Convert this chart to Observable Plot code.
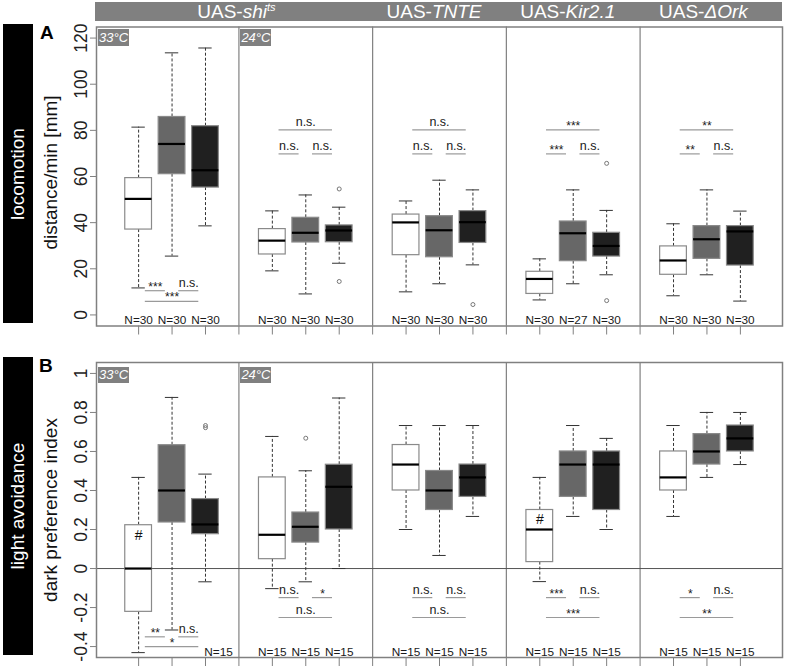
<!DOCTYPE html>
<html><head><meta charset="utf-8">
<script src="https://cdn.jsdelivr.net/npm/d3@7"></script>
<script src="https://cdn.jsdelivr.net/npm/@observablehq/plot@0.6"></script>
<style>
body{margin:0;background:#fff;font-family:"Liberation Sans",Arial,sans-serif;}
#wrap{position:relative;width:785px;height:672px;overflow:hidden;background:#fff}
.panel{position:absolute;left:0}
.side{position:absolute;background:#000;left:3px;width:30px}
.side span{position:absolute;left:50%;top:50%;transform:translate(-50%,-50%) rotate(-90deg);color:#fff;font-size:19px;white-space:nowrap}
.hdr{position:absolute;left:95px;top:2px;width:687px;height:19px;background:#808080}
.hl{position:absolute;top:2px;height:19px;line-height:19px;color:#fff;font-size:19px;white-space:nowrap;transform:translateX(-50%)}
.hl i{font-style:italic}
.hl sup{font-size:11px;line-height:0;vertical-align:7px;font-style:italic}
.temp{position:absolute;background:#808080;color:#fff;font-style:italic;font-size:13px;text-align:center}
.letter{position:absolute;font-weight:bold;font-size:19px;line-height:19px}
</style></head><body><div id="wrap"></div>
<script>
// ---------- data ----------
const positions = [1,2,3, 5,6,7, 9,10,11, 13,14,15, 17,18,19];
const boxShade  = ["white","gray","black","white","gray","black","white","gray","black","white","gray","black","white","gray","black"];
const dividers = [4, 8, 12, 16];
const tickPositions = [1,2,3,4,5,6,7,8,9,10,11,12,13,14,15,16,17,18,19];

// A: locomotion, distance/min [mm]
const locoHi  = [81.4,113.6,115.7, 45.1,52.0,46.7, 49.4,58.4,54.2, 24.3,54.2,45.3, 39.5,54.2,45.0];
const locoQ3  = [59.3, 85.8, 81.8, 37.2,42.1,38.8, 43.5,42.8,45.0, 18.7,40.5,35.6, 29.7,38.5,38.5];
const locoMed = [50.3, 74.1, 62.7, 32.2,35.6,36.6, 40.1,36.7,40.2, 15.6,35.4,29.9, 23.6,32.8,36.2];
const locoQ1  = [37.0, 61.0, 55.2, 26.2,31.4,31.5, 25.9,25.0,31.2,  9.1,23.3,25.3, 17.4,24.3,21.4];
const locoLo  = [11.7, 25.5, 38.6, 19.1, 9.1,22.4, 10.0,13.5,21.7,  6.5,13.5,17.4,  8.3,17.4, 6.0];
const locoN   = ["N=30","N=30","N=30","N=30","N=30","N=30","N=30","N=30","N=30","N=30","N=27","N=30","N=30","N=30","N=30"];
const locoOutPos = [7, 7, 11, 15, 15];
const locoOutVal = [54.6, 14.5, 4.5, 65.7, 6.2];
const locoTicks = [0, 20, 40, 60, 80, 100, 120];
const sigALabel = ["***","n.s.","***", "n.s.","n.s.","n.s.", "n.s.","n.s.","n.s.", "***","n.s.","***", "**","n.s.","**"];
const sigFrom   = [1,2,1, 5,6,5, 9,10,9, 13,14,13, 17,18,17];
const sigTo     = [2,3,3, 6,7,7, 10,11,11, 14,15,15, 18,19,19];
const sigAY     = [10.5,10.5,5.9, 69.8,69.8,80.2, 69.8,69.8,80.2, 69.8,69.8,80.2, 69.8,69.8,80.2];

// B: light avoidance, dark preference index
const prefHi  = [0.467,0.877,0.484, 0.677,0.501,0.874, 0.733,0.733,0.733,  0.467,0.733,0.667, 0.733,0.800,0.800];
const prefQ3  = [0.222,0.632,0.356, 0.467,0.287,0.532, 0.633,0.500,0.533,  0.300,0.600,0.600, 0.600,0.689,0.733];
const prefMed = [0.000,0.400,0.226, 0.173,0.214,0.419, 0.533,0.400,0.467,  0.200,0.533,0.533, 0.467,0.600,0.667];
const prefQ1  = [-0.222,0.236,0.176, 0.048,0.133,0.200, 0.400,0.300,0.367, 0.033,0.367,0.300, 0.400,0.533,0.600];
const prefLo  = [-0.431,-0.315,-0.068, -0.103,-0.068,0.000, 0.200,0.067,0.267, -0.067,0.267,0.200, 0.267,0.467,0.533];
const prefNPos = [5,6,7, 9,10,11, 13,14,15, 17,18,19];
const prefNFirst = [3];
const prefOutPos = [3, 3, 6];
const prefOutVal = [0.722, 0.733, 0.668];
const prefHashPos = [1, 13];
const prefHashVal = [0.171, 0.253];
const prefTicks = [-0.4, -0.2, 0, 0.2, 0.4, 0.6, 0.8, 1];
const prefTickLabels = ["-0.4","-0.2","0","0.2","0.4","0.6","0.8","1"];
const sigBLabel = ["**","n.s.","*", "n.s.","*","n.s.", "n.s.","n.s.","n.s.", "***","n.s.","***", "*","n.s.","**"];
const sigBY     = [-0.35,-0.35,-0.40, -0.149,-0.149,-0.251, -0.149,-0.149,-0.251, -0.149,-0.149,-0.251, -0.149,-0.149,-0.251];

// ---------- styling ----------
const shadeFill = {white: "#ffffff", gray: "#676767", black: "#202020"};
const gray = "#808080";
const font = "Liberation Sans, Arial, sans-serif";

function boxTable(hi, q3, med, q1, lo) {
  return positions.map((p, i) => ({pos: p, hi: hi[i], q3: q3[i], med: med[i], q1: q1[i], lo: lo[i], fill: shadeFill[boxShade[i]]}));
}
function sigTable(labels, ys) {
  return labels.map((l, i) => ({label: l, a: sigFrom[i], b: sigTo[i], y: ys[i]}));
}

function boxMarks(boxes) {
  return [
    Plot.ruleX(boxes, {x: "pos", y1: "q3", y2: "hi", stroke: "#333", strokeDasharray: "3,2", strokeWidth: 1}),
    Plot.ruleX(boxes, {x: "pos", y1: "q1", y2: "lo", stroke: "#333", strokeDasharray: "3,2", strokeWidth: 1}),
    Plot.ruleY(boxes, {y: "hi", x1: d => d.pos - 0.2, x2: d => d.pos + 0.2, stroke: "#333", strokeWidth: 1}),
    Plot.ruleY(boxes, {y: "lo", x1: d => d.pos - 0.2, x2: d => d.pos + 0.2, stroke: "#333", strokeWidth: 1}),
    Plot.rect(boxes, {x1: d => d.pos - 0.4, x2: d => d.pos + 0.4, y1: "q1", y2: "q3", fill: "fill", stroke: "#8a8a8a", strokeWidth: 1.2}),
    Plot.ruleY(boxes, {y: "med", x1: d => d.pos - 0.4, x2: d => d.pos + 0.4, stroke: "#000", strokeWidth: 2.2})
  ];
}
function sigMarks(sig) {
  const ns = sig.filter(d => d.label === "n.s.");
  const stars = sig.filter(d => d.label !== "n.s.");
  return [
    Plot.ruleY(sig, {y: "y", x1: d => d.a + 0.2, x2: d => d.b - 0.2, stroke: "#9a9a9a", strokeWidth: 1.2}),
    Plot.text(ns, {x: d => (d.a + d.b) / 2, y: "y", text: "label", lineAnchor: "bottom", dy: -4, fontSize: 12.5, fill: "#1a1a1a"}),
    Plot.text(stars, {x: d => (d.a + d.b) / 2, y: "y", text: "label", lineAnchor: "bottom", dy: 0, fontSize: 12, fill: "#1a1a1a"})
  ];
}
function frameMarks(ticks, labels) {
  return [
    Plot.ruleX(dividers, {stroke: gray, strokeWidth: 1.2}),
    Plot.axisX({ticks: tickPositions, tickSize: 9, tickFormat: () => "", stroke: gray, anchor: "bottom", label: null}),
    Plot.axisY({ticks: ticks, tickSize: 6, tickFormat: () => "", stroke: gray, anchor: "left", label: null}),
    Plot.text(ticks, {y: d => d, text: (d, i) => labels[i], frameAnchor: "left", textAnchor: "middle", lineAnchor: "middle", dx: -15, rotate: -90, fontSize: 17.5, fill: "#222"})
  ];
}
function titleMark(t, dy) {
  return Plot.text([t], {frameAnchor: "left", textAnchor: "middle", lineAnchor: "middle", dx: -46, dy: dy, rotate: -90, fontSize: 19, fill: "#111"});
}
function nMarks(pos, texts, dx) {
  return Plot.text(pos, {x: d => d, text: (d, i) => texts[i], frameAnchor: "bottom", lineAnchor: "bottom", dy: -2, dx: dx, fontSize: 11.8, fill: "#1a1a1a"});
}

const wrap = document.getElementById("wrap");

// ---------- panel A ----------
const boxesA = boxTable(locoHi, locoQ3, locoMed, locoQ1, locoLo);
const plotA = Plot.plot({
  width: 785, height: 340,
  marginLeft: 96, marginRight: 3, marginTop: 26.5, marginBottom: 14.5,
  x: {domain: [-0.26, 20.26], axis: null},
  y: {domain: [-4.8, 124.8], axis: null},
  color: {type: "identity"},
  style: {fontFamily: font, background: "transparent", overflow: "visible"},
  marks: [
    ...frameMarks(locoTicks, locoTicks.map(String)),
    ...boxMarks(boxesA),
    Plot.dot(locoOutPos, {x: d => d, y: (d, i) => locoOutVal[i], r: 2, stroke: "#777", strokeWidth: 1}),
    ...sigMarks(sigTable(sigALabel, sigAY)),
    nMarks(positions, locoN, 0),
    titleMark("distance/min [mm]", -4),
    Plot.frame({stroke: gray, strokeWidth: 1.5})
  ]
});
const divA = document.createElement("div");
divA.className = "panel"; divA.style.top = "0px";
divA.appendChild(plotA);
wrap.appendChild(divA);

// ---------- panel B ----------
const boxesB = boxTable(prefHi, prefQ3, prefMed, prefQ1, prefLo);
const plotB = Plot.plot({
  width: 785, height: 332,
  marginLeft: 96, marginRight: 3, marginTop: 22, marginBottom: 15,
  x: {domain: [-0.26, 20.26], axis: null},
  y: {domain: [-0.456, 1.056], axis: null},
  color: {type: "identity"},
  style: {fontFamily: font, background: "transparent", overflow: "visible"},
  marks: [
    ...frameMarks(prefTicks, prefTickLabels),
    Plot.ruleY([0], {stroke: "#555", strokeWidth: 1}),
    ...boxMarks(boxesB),
    Plot.dot(prefOutPos, {x: d => d, y: (d, i) => prefOutVal[i], r: 2, stroke: "#777", strokeWidth: 1}),
    Plot.text(prefHashPos, {x: d => d, y: (d, i) => prefHashVal[i], text: () => "#", fontSize: 14, fill: "#111"}),
    ...sigMarks(sigTable(sigBLabel, sigBY)),
    nMarks(prefNPos, prefNPos.map(() => "N=15"), 0),
    nMarks(prefNFirst, ["N=15"], 13),
    titleMark("dark preference index", 0),
    Plot.frame({stroke: gray, strokeWidth: 1.5})
  ]
});
const divB = document.createElement("div");
divB.className = "panel"; divB.style.top = "340px";
divB.appendChild(plotB);
wrap.appendChild(divB);

// ---------- overlays: header, side bars, labels ----------
const xs = plotA.scale("x");
function el(cls, css, html) {
  const d = document.createElement("div");
  d.className = cls; Object.assign(d.style, css); d.innerHTML = html || "";
  wrap.appendChild(d); return d;
}
el("hdr", {});
const headers = [
  {html: "UAS-<i>shi</i><sup>ts</sup>", at: 4, shift: -2},
  {html: "UAS-<i>TNTE</i>", at: 10, shift: -5},
  {html: "UAS-<i>Kir2.1</i>", at: 14, shift: -5},
  {html: "UAS-<i>ΔOrk</i>", at: 18, shift: -3}
];
headers.forEach(h => el("hl", {left: (xs.apply(h.at) + h.shift) + "px"}, h.html));

el("side", {top: "24px", height: "299px"}, "<span>locomotion</span>");
el("side", {top: "357px", height: "298px"}, "<span>light avoidance</span>");
el("letter", {left: "40px", top: "23px"}, "A");
el("letter", {left: "39px", top: "356px"}, "B");

const tempLabels = ["33°C", "24°C"];
const tempStart = [-0.26, 4];
tempLabels.forEach((t, i) => {
  const left = xs.apply(tempStart[i]) + 2;
  el("temp", {left: left + "px", top: "29px", width: "31px", height: "17px", lineHeight: "17px"}, t);
  el("temp", {left: left + "px", top: "366.5px", width: "31px", height: "16px", lineHeight: "16px"}, t);
});
</script></body></html>
